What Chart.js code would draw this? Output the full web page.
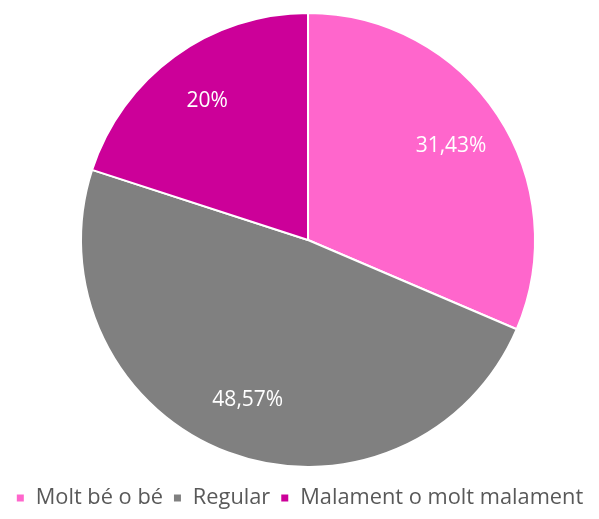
<!DOCTYPE html>
<html>
<head>
<meta charset="utf-8">
<script src="https://cdn.jsdelivr.net/npm/chart.js@4/dist/chart.umd.min.js"></script>
<style>
  html, body { margin: 0; padding: 0; background: #fff; }
  #wrap { width: 599px; height: 519px; }
</style>
</head>
<body>
<div id="wrap"><canvas id="myChart" width="599" height="519"></canvas></div>
<script>
let labels = ["Molt bé o bé", "Regular", "Malament o molt malament"];
let values = [31.43, 48.57, 20];
let valueLabels = ["31,43%", "48,57%", "20%"];
let colors = ["#ff66cc", "#808080", "#cc0099"];

// percentage labels inside the slices
const sliceLabels = {
    id: "sliceLabels",
    afterDatasetsDraw(chart) {
        let ctx = chart.ctx;
        let meta = chart.getDatasetMeta(0);
        ctx.save();
        ctx.font = "21px 'Open Sans', sans-serif";
        ctx.fillStyle = "white";
        ctx.textAlign = "center";
        ctx.textBaseline = "middle";
        meta.data.forEach((arc, i) => {
            let mid = (arc.startAngle + arc.endAngle) / 2;
            let r = arc.outerRadius * 0.755;
            ctx.fillText(valueLabels[i], arc.x + Math.cos(mid) * r, arc.y + Math.sin(mid) * r);
        });
        ctx.restore();
    }
};

// pie sits a bit right of centre and slightly into the legend gap
const pieArea = {
    id: "pieArea",
    afterLayout(chart) {
        let a = chart.chartArea;
        a.left = 17;
        a.width = a.right - a.left;
        a.bottom = 468;
        a.height = a.bottom - a.top;
    }
};

let chart = new Chart(document.getElementById("myChart").getContext("2d"), {
    type: "pie",
    data: {
        labels: labels,
        datasets: [{
            data: values,
            backgroundColor: colors,
            borderColor: "white",
            borderWidth: 2
        }]
    },
    options: {
        responsive: false,
        animation: false,
        layout: {
            padding: { top: 12, left: 0, right: 0, bottom: 0 }
        },
        plugins: {
            legend: {
                position: "bottom",
                title: {
                    display: true,
                    text: "",
                    font: { size: 1 },
                    padding: { top: 13, bottom: 0 }
                },
                labels: {
                    color: "#595959",
                    font: { family: "'Open Sans', sans-serif", size: 21.8 },
                    boxWidth: 9,
                    boxHeight: 9,
                    padding: 10
                }
            },
            tooltip: { enabled: false }
        }
    },
    plugins: [sliceLabels, pieArea]
});
</script>
</body>
</html>
